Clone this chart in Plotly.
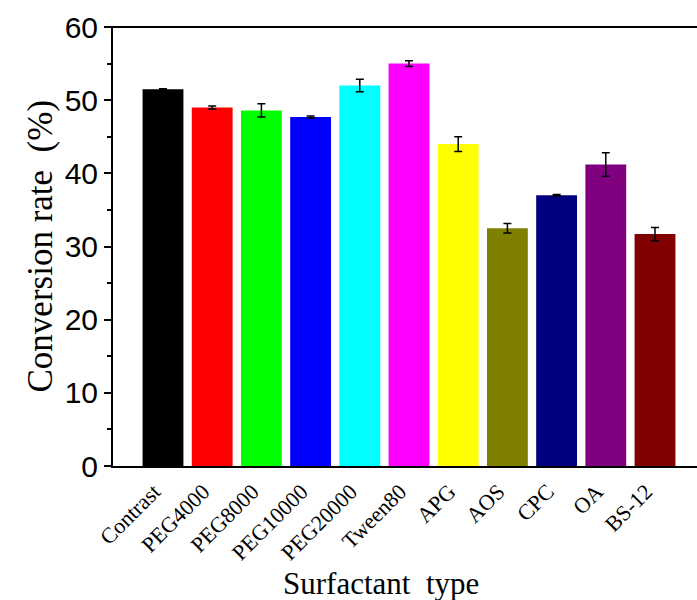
import plotly.graph_objects as go

categories = ["Contrast", "PEG4000", "PEG8000", "PEG10000", "PEG20000", "Tween80",
              "APG", "AOS", "CPC", "OA", "BS-12"]
values = [51.5, 49.0, 48.6, 47.7, 52.0, 55.0, 44.0, 32.5, 37.0, 41.2, 31.7]
errors = [0.05, 0.2, 0.9, 0.15, 0.85, 0.4, 1.0, 0.65, 0.1, 1.6, 0.9]
colors = ["#000000", "#FF0000", "#00FF00", "#0000FF", "#00FFFF", "#FF00FF",
          "#FFFF00", "#808000", "#000080", "#800080", "#800000"]
y_ticks = [0, 10, 20, 30, 40, 50, 60]

fig = go.Figure()
fig.add_trace(go.Bar(
    x=list(range(len(categories))),
    y=values,
    marker=dict(color=colors, line=dict(width=0)),
    error_y=dict(type="data", array=errors, visible=True, color="black",
                 thickness=1.5, width=4),
    width=0.83,
))

plot_left, plot_right, plot_top, plot_bottom = 113, 690, 27, 466
W, H = 697, 600
px_per_cat = 49.2
first_center = 163
x_lo = (plot_left - first_center) / px_per_cat
x_hi = (plot_right - first_center) / px_per_cat

fig.update_layout(
    width=W, height=H,
    margin=dict(l=plot_left, r=W - plot_right, t=plot_top, b=H - plot_bottom, pad=0),
    plot_bgcolor="white", paper_bgcolor="white",
    showlegend=False,
    xaxis=dict(
        range=[x_lo, x_hi],
        tickmode="array",
        tickvals=list(range(len(categories))),
        ticktext=categories,
        tickangle=-45,
        ticklabelshift=-9,
        ticklabelstandoff=2,
        tickfont=dict(family="Liberation Serif", size=22, color="black"),
        showline=True, linecolor="black", linewidth=2, mirror=False,
        ticks="", showgrid=False, zeroline=False,
    ),
    yaxis=dict(
        range=[0, 60],
        tickmode="array",
        tickvals=y_ticks,
        ticktext=[str(v) for v in y_ticks],
        tickfont=dict(family="Liberation Sans", size=30, color="black"),
        showline=True, linecolor="black", linewidth=2,
        ticks="outside", ticklen=7, tickwidth=1.5, tickcolor="black",
        minor=dict(dtick=5, ticks="outside", ticklen=4, tickwidth=1.5, tickcolor="black"),
        showgrid=False, zeroline=False,
    ),
)

pw = plot_right - plot_left
ph = plot_bottom - plot_top
edge = (W - plot_left) / pw
# top frame line and extension of bottom axis line to the image edge
fig.add_shape(type="line", xref="paper", yref="paper", x0=-7 / pw, x1=edge, y0=1, y1=1,
              line=dict(color="black", width=2))
fig.add_shape(type="line", xref="paper", yref="paper", x0=0.99, x1=edge,
              y0=-1 / ph, y1=-1 / ph, line=dict(color="black", width=2))

fig.add_annotation(
    text="Conversion rate\u00a0\u00a0(%)",
    xref="paper", yref="paper",
    x=(40 - plot_left) / pw, y=0.5,
    xanchor="center", yanchor="middle",
    textangle=-90, showarrow=False,
    font=dict(family="Liberation Serif", size=35, color="black"),
)
fig.add_annotation(
    text="Surfactant\u00a0\u00a0type",
    xref="paper", yref="paper",
    x=(381 - plot_left) / pw, y=(plot_bottom - 583) / ph,
    xanchor="center", yanchor="middle",
    showarrow=False,
    font=dict(family="Liberation Serif", size=31, color="black"),
)

fig.write_html("out.html")
